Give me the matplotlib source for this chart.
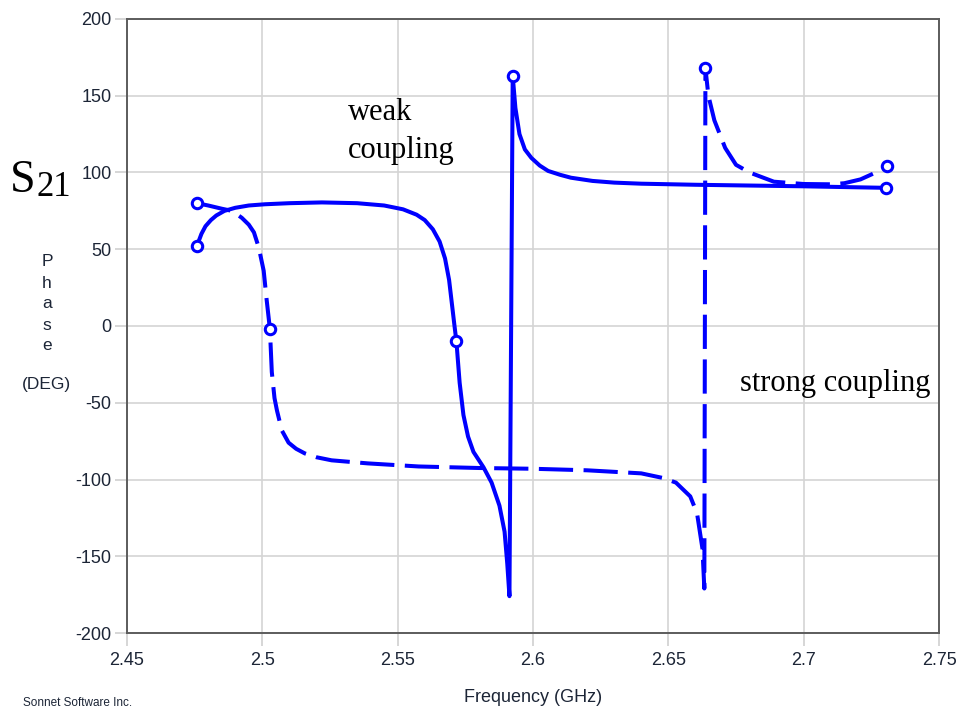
import matplotlib
matplotlib.use("Agg")
import matplotlib.pyplot as plt

# ---- data ----
weak_freq = [2.4758, 2.4775, 2.4790, 2.4810, 2.4830, 2.4860, 2.4900, 2.4950, 2.5010,
             2.5100, 2.5220, 2.5350, 2.5450, 2.5520, 2.5570, 2.5600, 2.5630, 2.5655,
             2.5675, 2.5690, 2.5700, 2.5710, 2.5717, 2.5729, 2.5743, 2.5760, 2.5780,
             2.5817, 2.5847, 2.5876, 2.5895, 2.5905, 2.5913, 2.5925, 2.5935, 2.5950,
             2.5970, 2.5994, 2.6025, 2.6056, 2.6100, 2.6140, 2.6220, 2.6300, 2.6400,
             2.6600, 2.6800, 2.7000, 2.7150, 2.7305]
weak_phase = [52, 60, 65, 69, 72, 75, 77, 78.5, 79.3,
              80, 80.5, 80, 78.5, 76, 72.5, 69, 63, 55,
              44, 30, 15, 0, -10, -37, -58, -72, -82,
              -92, -102, -117, -134, -155, -176, 163, 142, 125,
              115, 109.5, 104.5, 101, 98.5, 96.6, 94.5, 93.4, 92.7,
              92, 91.5, 91, 90.5, 90]
weak_markers = [0, 22, 33, 49]

strong_freq = [2.4758, 2.4800, 2.4850, 2.4888, 2.4924, 2.4950, 2.4969, 2.4987, 2.5005,
               2.5016, 2.5028, 2.5035, 2.5045, 2.5054, 2.5072, 2.5097, 2.5125, 2.5157,
               2.5200, 2.5256, 2.5390, 2.5577, 2.5800, 2.6000, 2.6200, 2.6400, 2.6480,
               2.6528, 2.6581, 2.6606, 2.6626, 2.6633, 2.6637, 2.6648, 2.6670, 2.6710,
               2.6750, 2.6800, 2.6890, 2.7000, 2.7100, 2.7150, 2.7210, 2.7260, 2.7308]
strong_phase = [80, 78.5, 76.4, 75, 70.5, 66, 61, 51, 36,
                17, -2, -30, -47, -55, -68, -76, -80, -83,
                -85.5, -87.5, -89.5, -91.5, -92.5, -93, -94, -96, -99,
                -102, -111, -122, -145, -171, 168, 150, 134, 116,
                105, 100, 94, 92.5, 92.3, 93, 95.5, 99.5, 104]
strong_markers = [0, 10, 32, 44]

x_ticks = [2.45, 2.5, 2.55, 2.6, 2.65, 2.7, 2.75]
x_tick_labels = ["2.45", "2.5", "2.55", "2.6", "2.65", "2.7", "2.75"]
y_ticks = [-200, -150, -100, -50, 0, 50, 100, 150, 200]
y_tick_labels = ["-200", "-150", "-100", "-50", "0", "50", "100", "150", "200"]

BLUE = "#0000ff"
LABEL_COLOR = "#1c2536"
SANS = ["Liberation Sans", "DejaVu Sans"]
SERIF = ["Liberation Serif", "DejaVu Serif"]

fig = plt.figure(figsize=(9.57, 7.08), dpi=100)
ax = fig.add_axes([0.1327, 0.1059, 0.8485, 0.8673])

ax.plot(weak_freq, weak_phase, color=BLUE, lw=2.9, solid_joinstyle="round",
        marker="o", markevery=weak_markers, markersize=7.5,
        markerfacecolor="white", markeredgecolor=BLUE, markeredgewidth=2.2, zorder=3)
ax.plot(strong_freq, strong_phase, color=BLUE, lw=2.9, dashes=(8.5, 2.6),
        marker="o", markevery=strong_markers, markersize=7.5,
        markerfacecolor="white", markeredgecolor=BLUE, markeredgewidth=2.2, zorder=3)

ax.set_xlim(2.45, 2.75)
ax.set_ylim(-200, 200)
ax.set_xticks(x_ticks)
ax.set_xticklabels(x_tick_labels)
ax.set_yticks(y_ticks)
ax.set_yticklabels(y_tick_labels)
ax.grid(True, color="#d4d4d4", lw=1.2, zorder=0)
ax.set_axisbelow(True)
ax.tick_params(axis="both", direction="out", length=9, width=1.2, color="#cfcfcf",
               labelsize=13, labelcolor=LABEL_COLOR, pad=2)
for lab in ax.get_xticklabels() + ax.get_yticklabels():
    lab.set_family(SANS)
ax.tick_params(axis="x", pad=5)
for sp in ax.spines.values():
    sp.set_color("#5c5c5c")
    sp.set_linewidth(1.4)

# axis titles
fig.text(533 / 957, 1 - 697 / 708, "Frequency (GHz)", ha="center", va="center",
         fontsize=13, color=LABEL_COLOR, family=SANS)
fig.text(23 / 957, 1 - 703 / 708, "Sonnet Software Inc.", ha="left", va="center",
         fontsize=8.5, color=LABEL_COLOR, family=SANS)
for i, ch in enumerate("Phase"):
    fig.text(47 / 957, 1 - (262 + 21 * i) / 708, ch, ha="center", va="center",
             fontsize=12.5, color=LABEL_COLOR, family=SANS)
fig.text(46 / 957, 1 - 385 / 708, "(DEG)", ha="center", va="center",
         fontsize=12.5, color=LABEL_COLOR, family=SANS)

# annotations
fig.text(10 / 957, 1 - 192 / 708, "S", ha="left", va="baseline",
         fontsize=33, color="black", family=SERIF)
fig.text(37 / 957, 1 - 196 / 708, "21", ha="left", va="baseline",
         fontsize=25, color="black", family=SERIF)
fig.text(348 / 957, 1 - 120 / 708, "weak", ha="left", va="baseline",
         fontsize=22, color="black", family=SERIF)
fig.text(348 / 957, 1 - 158 / 708, "coupling", ha="left", va="baseline",
         fontsize=22, color="black", family=SERIF)
fig.text(740 / 957, 1 - 391 / 708, "strong coupling", ha="left", va="baseline",
         fontsize=22, color="black", family=SERIF)

fig.savefig("out.png", dpi=100)
